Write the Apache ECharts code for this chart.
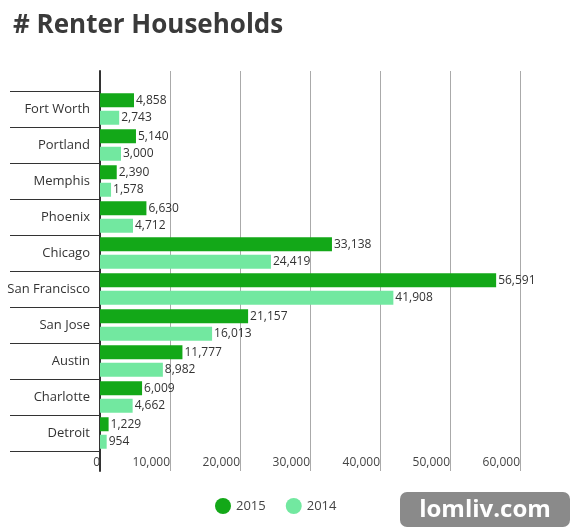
<!DOCTYPE html>
<html><head><meta charset="utf-8">
<script src="https://cdn.jsdelivr.net/npm/echarts@6/dist/echarts.min.js"></script>
<style>html,body{margin:0;padding:0;background:#fff}#c{width:571px;height:531px}</style>
</head><body><div id="c"></div>
<script>
const categories = ['Fort Worth','Portland','Memphis','Phoenix','Chicago','San Francisco','San Jose','Austin','Charlotte','Detroit'];
const values2015 = [4858,5140,2390,6630,33138,56591,21157,11777,6009,1229];
const values2014 = [2743,3000,1578,4712,24419,41908,16013,8982,4662,954];
const F = "'Open Sans', 'DejaVu Sans', sans-serif";
const chart = echarts.init(document.getElementById('c'));
const lbl = {show:true, position:'right', distance:2, color:'#333', fontSize:12, fontFamily:F, formatter:p=>p.value.toLocaleString('en-US')};
chart.setOption({
  animation:false,
  title:{text:'# Renter Households', left:8, top:8, textStyle:{fontSize:26, fontWeight:'bold', color:'#3a3a3a', fontFamily:F}},
  legend:{bottom:12, left:210, itemWidth:16, itemHeight:16, icon:'circle', itemGap:20,
    textStyle:{fontSize:13, color:'#444', fontFamily:F}, data:['2015','2014']},
  grid:[{left:100, right:51, top:91, height:360},{left:100, right:51, top:71, height:400}],
  xAxis:[
    {gridIndex:0, type:'value', min:0, max:60000, interval:10000, splitLine:{show:false}, axisLine:{show:false}, axisTick:{show:false},
     axisLabel:{align:'right', margin:6, color:'#444', fontSize:12, fontFamily:F, formatter:v=>v.toLocaleString('en-US')}},
    {gridIndex:1, type:'value', min:0, max:60000, interval:10000, splitLine:{lineStyle:{color:'#aaa'}}, axisLine:{show:false}, axisTick:{show:false}, axisLabel:{show:false}}
  ],
  yAxis:[
    {gridIndex:0, type:'category', data:categories, inverse:true, axisLine:{show:true, lineStyle:{color:'#333', width:2}},
     axisTick:{show:true, length:90, lineStyle:{color:'#333', width:1}}, axisLabel:{margin:10, color:'#333', fontSize:13, fontFamily:F}},
    {gridIndex:1, type:'category', data:['a'], axisLine:{lineStyle:{color:'#333', width:2}}, axisTick:{show:false}, axisLabel:{show:false}}
  ],
  series:[
    {name:'2015', type:'bar', xAxisIndex:0, yAxisIndex:0, data:values2015, barWidth:14, barGap:'25%', itemStyle:{color:'#13a818'}, label:lbl},
    {name:'2014', type:'bar', xAxisIndex:0, yAxisIndex:0, data:values2014, barWidth:14, itemStyle:{color:'#72e8a0'}, label:lbl}
  ],
  graphic:[{type:'group', left:400, top:492, children:[
    {type:'rect', shape:{x:0,y:0,width:170,height:35,r:7}, style:{fill:'#8a8a8a'}},
    {type:'text', style:{x:85,y:18,text:'lomliv.com', align:'center', verticalAlign:'middle', fill:'#fff', font:"bold 24px 'Open Sans', sans-serif"}}
  ]}]
});
</script></body></html>
